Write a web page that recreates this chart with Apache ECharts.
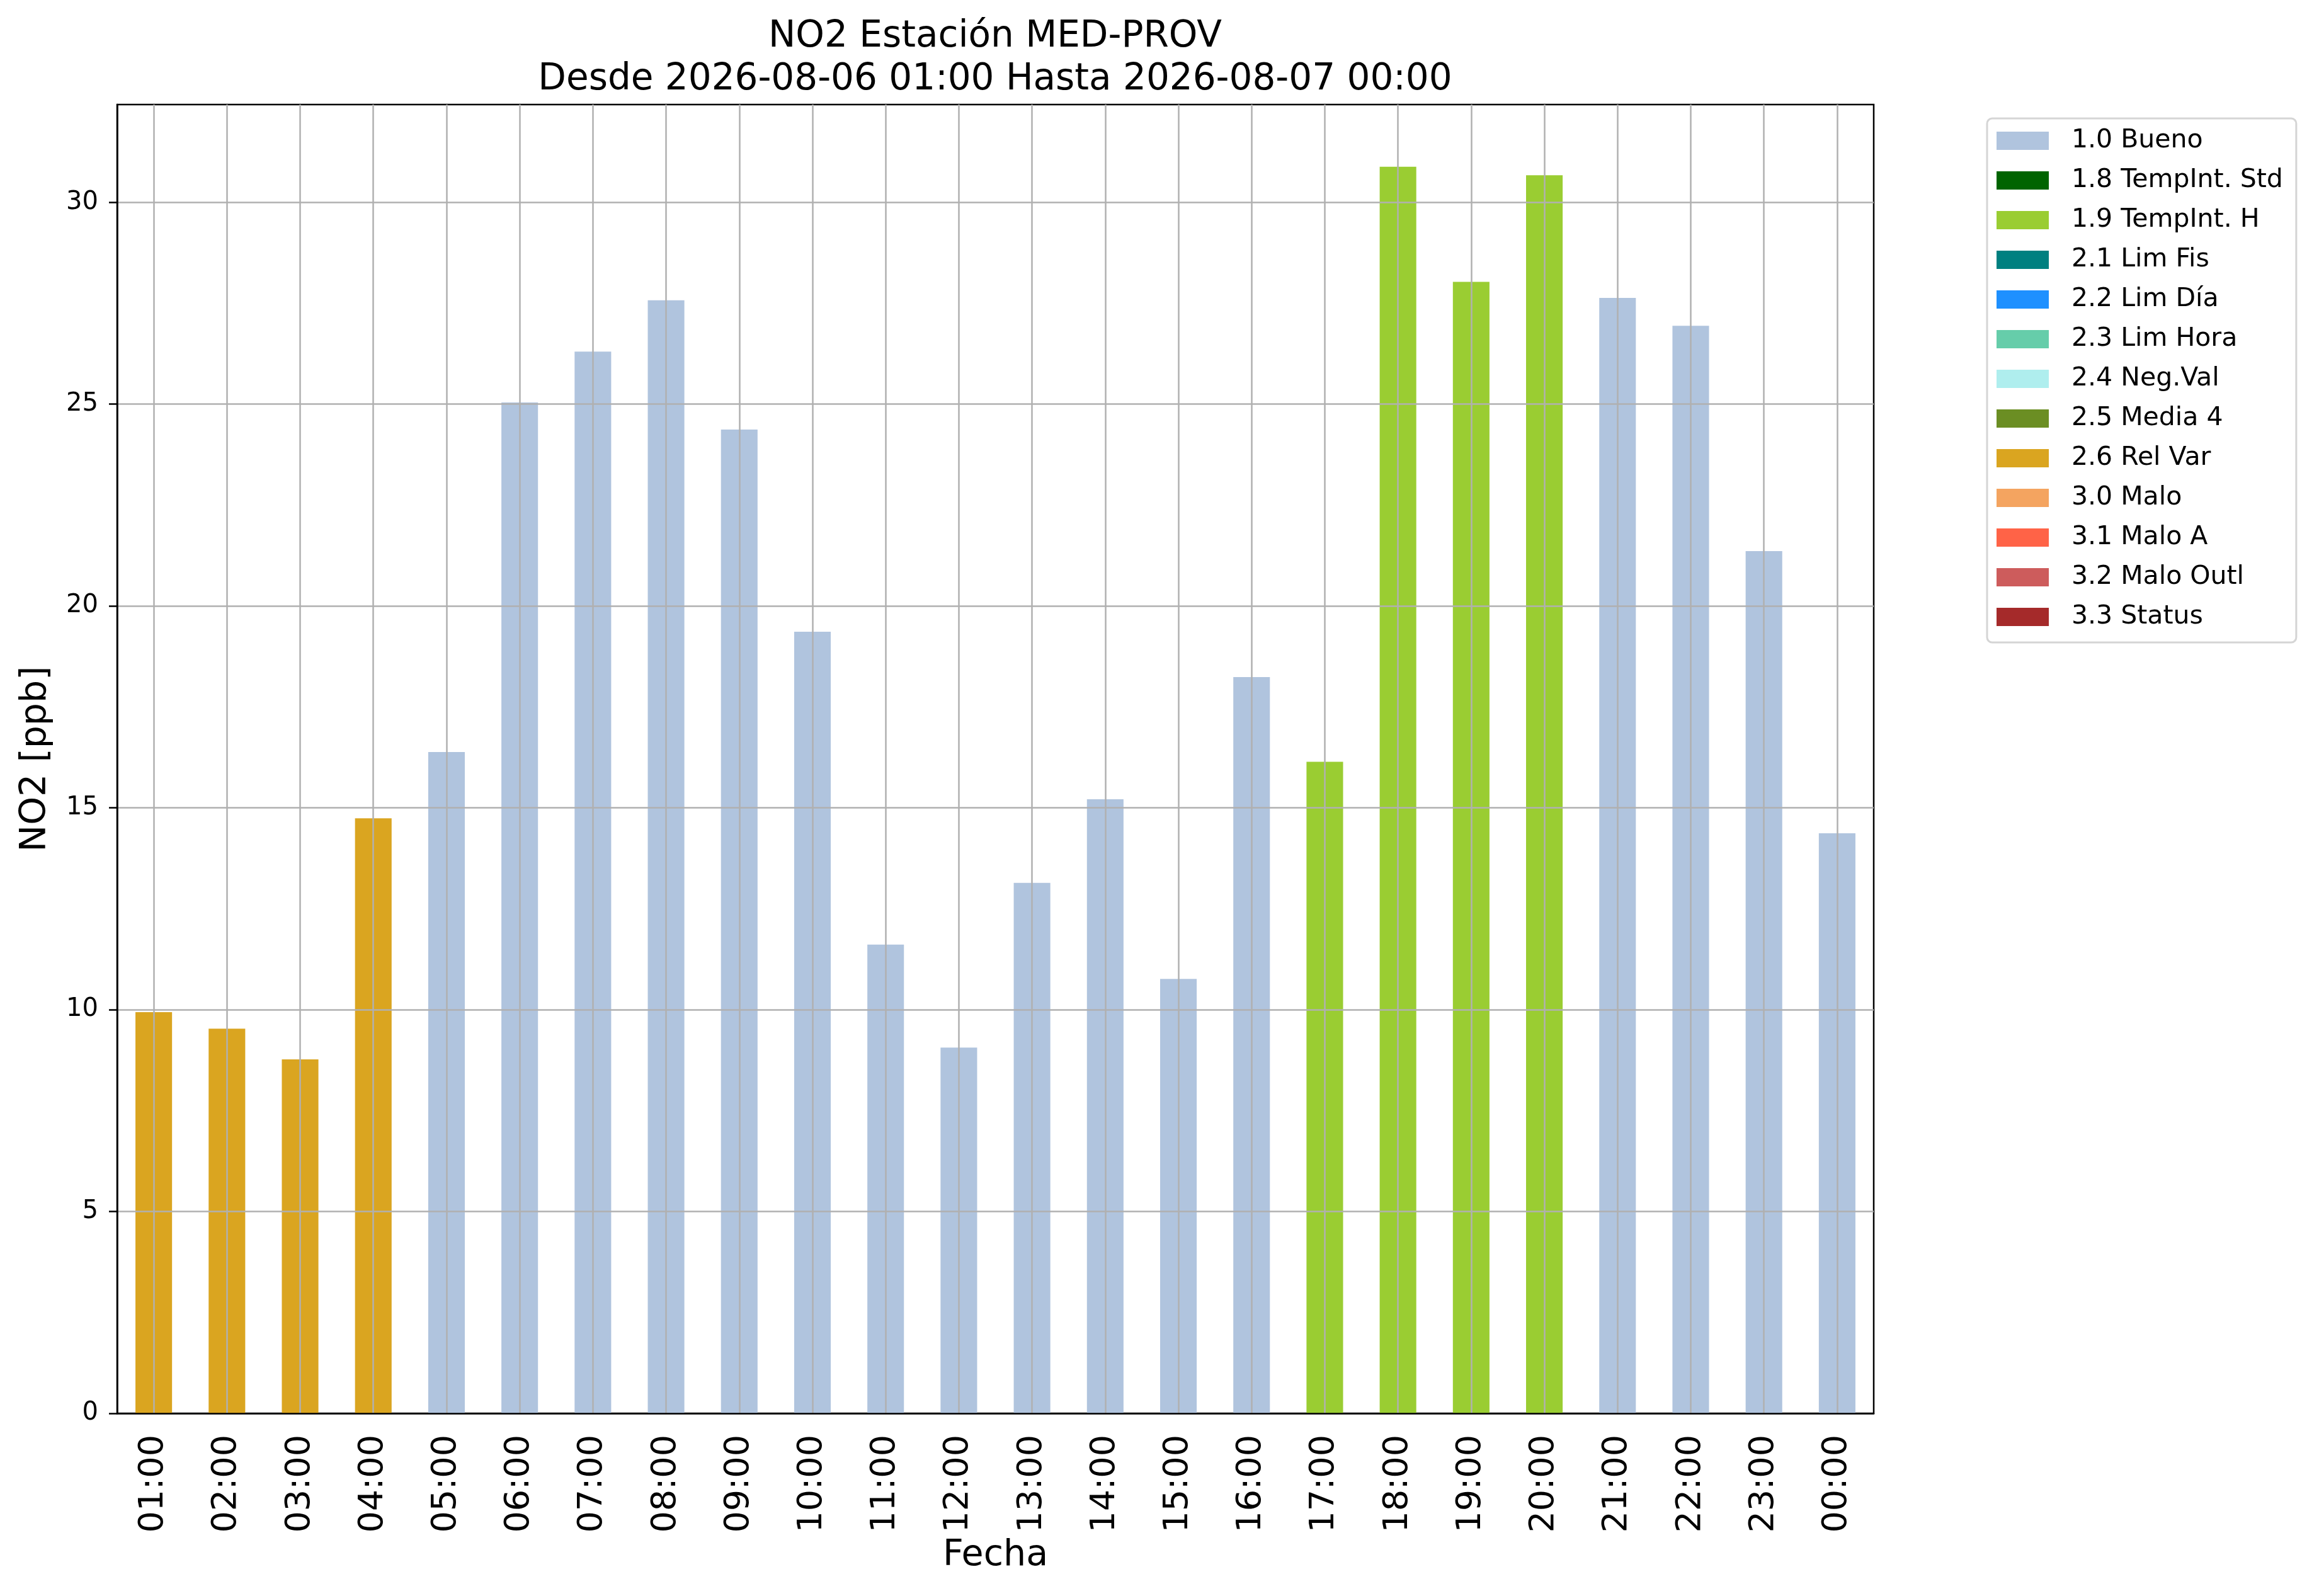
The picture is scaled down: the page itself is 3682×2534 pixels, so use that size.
<!DOCTYPE html>
<html>
<head>
<meta charset="utf-8">
<script src="https://cdn.jsdelivr.net/npm/echarts@6/dist/echarts.min.js"></script>
<style>
html,body{margin:0;padding:0;background:#fff;}
#chart{width:3682px;height:2534px;}
</style>
</head>
<body>
<div id="chart"></div>
<script>
// 数据
const hours = ['01:00','02:00','03:00','04:00','05:00','06:00','07:00','08:00','09:00','10:00','11:00','12:00',
    '13:00','14:00','15:00','16:00','17:00','18:00','19:00','20:00','21:00','22:00','23:00','00:00']
const no2 = [9.94, 9.53, 8.77, 14.74, 16.38, 25.04, 26.30, 27.57, 24.37, 19.36, 11.61, 9.06,
    13.14, 15.21, 10.76, 18.24, 16.14, 30.88, 28.03, 30.67, 27.63, 26.94, 21.36, 14.37]
const flags = ['2.6 Rel Var','2.6 Rel Var','2.6 Rel Var','2.6 Rel Var',
    '1.0 Bueno','1.0 Bueno','1.0 Bueno','1.0 Bueno','1.0 Bueno','1.0 Bueno','1.0 Bueno','1.0 Bueno',
    '1.0 Bueno','1.0 Bueno','1.0 Bueno','1.0 Bueno',
    '1.9 TempInt. H','1.9 TempInt. H','1.9 TempInt. H','1.9 TempInt. H',
    '1.0 Bueno','1.0 Bueno','1.0 Bueno','1.0 Bueno']
const flagNames = ['1.0 Bueno','1.8 TempInt. Std','1.9 TempInt. H','2.1 Lim Fis','2.2 Lim Día','2.3 Lim Hora',
    '2.4 Neg.Val','2.5 Media 4','2.6 Rel Var','3.0 Malo','3.1 Malo A','3.2 Malo Outl','3.3 Status']
const flagColors = ['#B0C4DE','#006400','#9ACD32','#008080','#1E90FF','#66CDAA',
    '#AFEEEE','#6B8E23','#DAA520','#F4A460','#FF6347','#CD5C5C','#A52A2A']

const font = 'DejaVu Sans'

let chart = echarts.init(document.getElementById('chart'))

// 每个标记一个系列
let series = flagNames.map((name, k) => ({
    name: name,
    type: 'bar',
    stack: 'flag',
    barWidth: '50%',
    itemStyle: {color: flagColors[k]},
    data: no2.map((v, i) => flags[i] === name ? v : '-')
}))

let option = {
    animation: false,
    textStyle: {fontFamily: font, color: '#000'},
    title: {
        text: 'NO2 Estación MED-PROV\nDesde 2026-08-06 01:00 Hasta 2026-08-07 00:00',
        left: 1580,
        top: 25,
        padding: 0,
        textAlign: 'center',
        textStyle: {fontFamily: font, fontSize: 58, fontWeight: 'normal', lineHeight: 68, color: '#000'}
    },
    legend: {
        orient: 'vertical',
        left: 3155,
        top: 188,
        padding: [15, 21, 20, 15],
        itemWidth: 83,
        itemHeight: 29,
        itemGap: 22,
        icon: 'rect',
        selectedMode: false,
        borderColor: '#d5d5d5',
        borderWidth: 3,
        borderRadius: 8,
        backgroundColor: '#fff',
        textStyle: {fontFamily: font, fontSize: 41, lineHeight: 41, color: '#000', padding: [0, 0, 0, 31]},
        data: flagNames
    },
    grid: {
        left: 186,
        right: 707,
        top: 166,
        bottom: 290,
        show: true,
        borderColor: '#000',
        borderWidth: 2.5
    },
    xAxis: {
        type: 'category',
        data: hours,
        z: 5,
        name: 'Fecha',
        nameLocation: 'middle',
        nameGap: 192,
        nameTextStyle: {fontFamily: font, fontSize: 57, color: '#000'},
        axisLine: {lineStyle: {color: '#000', width: 2.5}},
        axisTick: {alignWithLabel: true, length: 13, lineStyle: {color: '#000', width: 2.5}},
        axisLabel: {rotate: 90, interval: 0, margin: 34, fontFamily: font, fontSize: 54, color: '#000'},
        splitLine: {show: true, interval: 0, alignWithLabel: true, lineStyle: {color: '#b0b0b0', width: 2.5}}
    },
    yAxis: {
        type: 'value',
        min: 0,
        max: 32.42,
        interval: 5,
        z: 5,
        name: 'NO2 [ppb]',
        nameLocation: 'middle',
        nameGap: 100,
        nameRotate: 90,
        nameTextStyle: {fontFamily: font, fontSize: 57, color: '#000'},
        axisLine: {show: true, lineStyle: {color: '#000', width: 2.5}},
        axisTick: {show: true, length: 13, lineStyle: {color: '#000', width: 2.5}},
        axisLabel: {margin: 30, showMaxLabel: false, fontFamily: font, fontSize: 40, color: '#000'},
        splitLine: {show: true, showMinLine: false, showMaxLine: false, lineStyle: {color: '#b0b0b0', width: 2.5}}
    },
    series: series
}

chart.setOption(option)
</script>
</body>
</html>
